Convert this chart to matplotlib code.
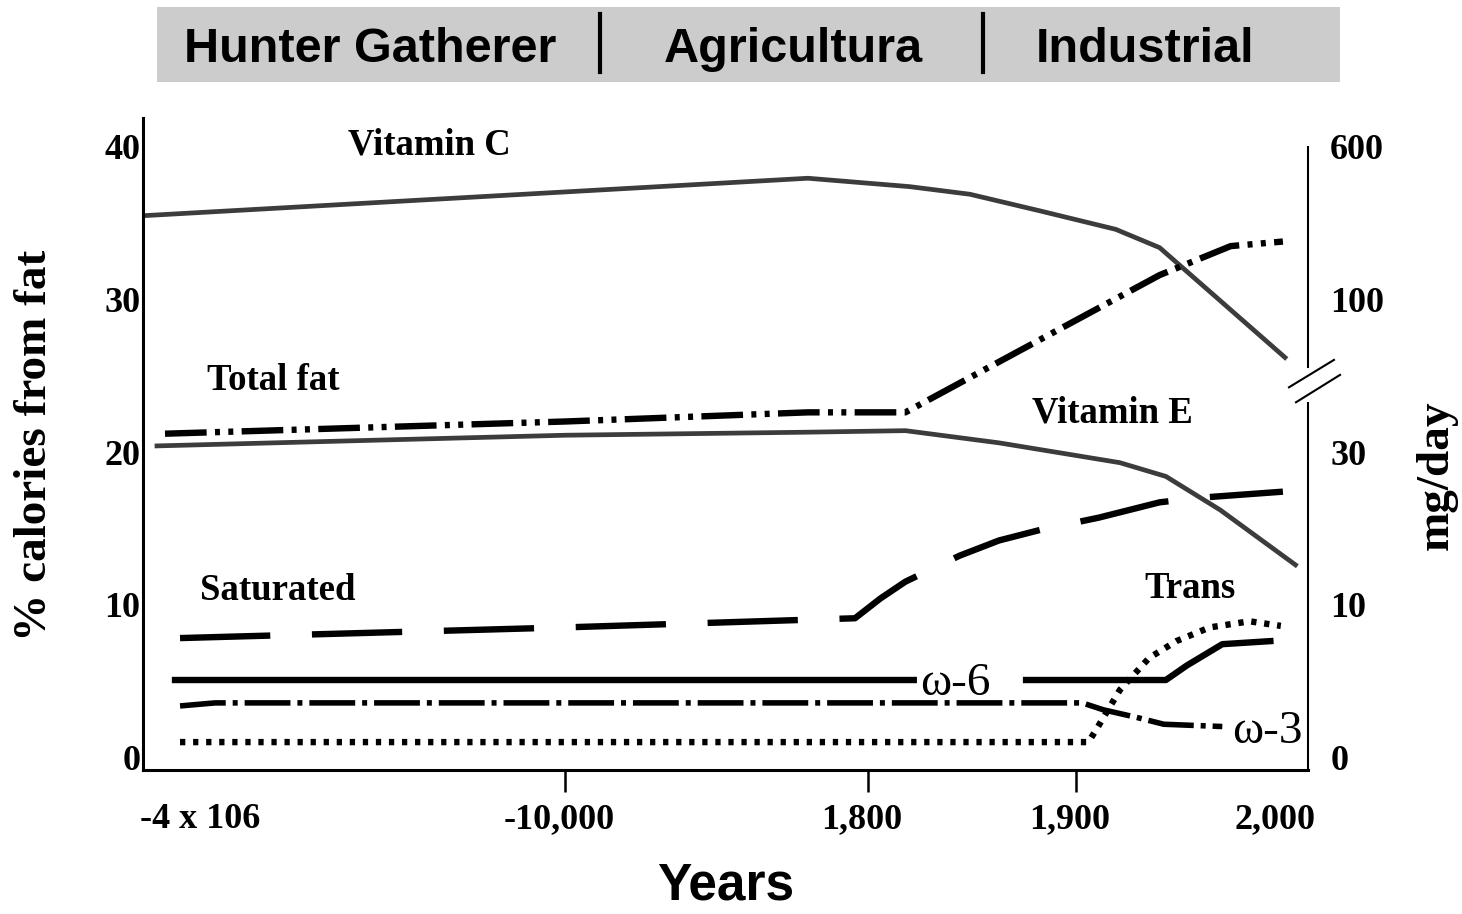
import numpy as np
import matplotlib
matplotlib.use("Agg")
import matplotlib.pyplot as plt
from matplotlib.lines import Line2D
from matplotlib.patches import Rectangle
import matplotlib.transforms as mtransforms

plt.rcParams['lines.scale_dashes'] = False

# ---------------- data ----------------
era_labels = ["Hunter Gatherer", "Agricultura", "Industrial"]
xtick_years = [-10000, 1800, 1900]
xtick_labels = ["-10,000", "1,800", "1,900"]
end_labels = ["-4 x 106", "2,000"]
left_ticks = [0, 10, 20, 30, 40]
right_tick_labels = ["0", "10", "30", "100", "600"]

vitc_x = [-4.2e6, -540, 1820, 1849, 1883, 1919, 1940, 2000]
vitc_y = [35.5, 37.95, 37.4, 36.9, 35.8, 34.6, 33.4, 26.2]

totfat_x = [-4.0e6, -10000, -540, 1818, 1940, 1974, 1999]
totfat_y = [21.2, 22.0, 22.6, 22.6, 31.6, 33.5, 33.8]

vite_x = [-4.08e6, -10000, -540, 1818, 1863, 1921, 1943, 1969, 2005]
vite_y = [20.4, 21.1, 21.3, 21.4, 20.6, 19.3, 18.4, 16.2, 12.6]

sat_x = [-3.85e6, -10000, 1294, 1806, 1818, 1844, 1863, 1883, 1911, 1940, 1959, 1999]
sat_y = [7.8, 8.5, 9.1, 10.4, 11.5, 13.2, 14.2, 14.9, 15.7, 16.7, 17.0, 17.4]

w6_x = [-3.9e6, 1822, np.nan, 1876, 1943, 1953, 1970, 1993]
w6_y = [5.05, 5.05, np.nan, 5.05, 5.05, 6.0, 7.4, 7.6]

w3_x = [-3.85e6, -3.5e6, 1903, 1913, 1929, 1942, 1970]
w3_y = [3.35, 3.55, 3.55, 3.1, 2.6, 2.15, 2.0]

trans_x = [-3.85e6, 1906, 1911, 1921, 1935, 1948, 1964, 1983, 1998]
trans_y = [0.98, 0.98, 2.1, 4.4, 6.5, 7.6, 8.5, 8.9, 8.6]

# ---------------- piecewise year scale ----------------
KY = np.array([-4.0e6, -10000.0, 1800.0, 1900.0, 2000.0])
KP = np.array([165.0, 565.0, 868.0, 1076.0, 1285.0])


def _pw(x, a, b):
    x = np.asarray(x, dtype=float)
    y = np.interp(x, a, b)
    lo = x < a[0]
    hi = x > a[-1]
    y = np.where(lo, b[0] + (x - a[0]) * (b[1] - b[0]) / (a[1] - a[0]), y)
    y = np.where(hi, b[-1] + (x - a[-1]) * (b[-1] - b[-2]) / (a[-1] - a[-2]), y)
    return y


def fwd(x):
    return _pw(x, KY, KP)


def inv(u):
    return _pw(u, KP, KY)


# ---------------- figure ----------------
fig = plt.figure(figsize=(14.62, 9.14), dpi=100)
ax = fig.add_axes([143 / 1462, 1 - 770 / 914, 1165 / 1462, 652 / 914])
ax.set_xscale('function', functions=(fwd, inv))
ax.set_xlim(float(inv(143)), float(inv(1308)))
ax.set_ylim(-0.85, 41.9)

gray = '#3c3c3c'
LW_B = 4.6
ax.plot(vitc_x, vitc_y, color=gray, lw=3.4, solid_joinstyle='round')
ax.plot(vite_x, vite_y, color=gray, lw=3.4, solid_joinstyle='round')
ax.plot(totfat_x, totfat_y, color='black', lw=LW_B,
        linestyle=(0, (30, 6, 3.6, 6, 3.6, 6)))
ax.plot(sat_x, sat_y, color='black', lw=LW_B, linestyle=(0, (65, 30)))
ax.plot(w6_x, w6_y, color='black', lw=LW_B)
ax.plot(w3_x, w3_y, color='black', lw=LW_B - 0.6,
        linestyle=(0, (33, 5, 3.6, 5)))
ax.plot(trans_x, trans_y, color='black', lw=LW_B,
        linestyle=(0, (3.8, 5.6)))

serif = 'Liberation Serif'
sans = 'Liberation Sans'

# annotations
ann = dict(fontfamily=serif, fontweight='bold', fontsize=26.5, transform=ax.transAxes,
           ha='center', va='center')
ax.text(0.246, 0.958, "Vitamin C", **ann)
ax.text(0.112, 0.598, "Total fat", **ann)
ax.text(0.832, 0.548, "Vitamin E", **ann)
ax.text(0.116, 0.276, "Saturated", **ann)
ax.text(0.899, 0.279, "Trans", **ann)
ax.text(0.697, 0.133, "ω-6", fontfamily=serif, fontsize=34, transform=ax.transAxes,
        ha='center', va='center')
ax.text(0.965, 0.058, "ω-3", fontfamily=serif, fontsize=34, transform=ax.transAxes,
        ha='center', va='center')

# spines
for s in ['top', 'right']:
    ax.spines[s].set_visible(False)
ax.spines['left'].set_linewidth(2.2)
ax.spines['bottom'].set_linewidth(2.2)

ax.set_yticks(left_ticks)
ax.set_yticklabels([str(v) for v in left_ticks])
ax.tick_params(axis='y', length=0, pad=2, labelsize=26)
for lab in ax.get_yticklabels():
    lab.set_fontfamily(serif)
    lab.set_fontweight('bold')

ax.xaxis.set_major_locator(matplotlib.ticker.FixedLocator(xtick_years))
ax.xaxis.set_minor_locator(matplotlib.ticker.NullLocator())
ax.set_xticklabels(xtick_labels)
ax.tick_params(axis='x', direction='out', length=16, width=1.8, pad=8, labelsize=26)
for lab in ax.get_xticklabels():
    lab.set_fontfamily(serif)
    lab.set_fontweight('bold')
    lab.set_transform(lab.get_transform() +
                      mtransforms.ScaledTranslation(-6 / 100, 0, fig.dpi_scale_trans))

bl = mtransforms.blended_transform_factory(ax.transData, ax.transAxes)
ax.annotate(end_labels[0], xy=(KY[0], 0), xycoords=bl, xytext=(25, -36),
            textcoords='offset points', ha='center', va='center',
            fontfamily=serif, fontweight='bold', fontsize=26, annotation_clip=False)
ax.annotate(end_labels[1], xy=(KY[-1], 0), xycoords=bl, xytext=(-7, -36),
            textcoords='offset points', ha='center', va='center',
            fontfamily=serif, fontweight='bold', fontsize=26, annotation_clip=False)

# right axis (labels only)
ax2 = ax.twinx()
ax2.set_ylim(ax.get_ylim())
ax2.set_yticks(left_ticks)
ax2.set_yticklabels(right_tick_labels)
ax2.tick_params(axis='y', length=0, pad=16, labelsize=26)
for lab in ax2.get_yticklabels():
    lab.set_fontfamily(serif)
    lab.set_fontweight('bold')
for s in ax2.spines.values():
    s.set_visible(False)

# custom right spine with break
rt = mtransforms.blended_transform_factory(ax.transAxes, ax.transData)
ax.plot([1, 1], [-0.85, 23.2], color='black', lw=1.5, transform=rt, clip_on=False)
ax.plot([1, 1], [25.6, 40.0], color='black', lw=1.5, transform=rt, clip_on=False)
ax.plot([0.9837, 1.0223], [0.587, 0.629], color='black', lw=1.5,
        transform=ax.transAxes, clip_on=False)
ax.plot([0.9897, 1.0275], [0.564, 0.606], color='black', lw=1.5,
        transform=ax.transAxes, clip_on=False)

# axis titles
fig.text(35 / 1462, 1 - 445 / 914, "% calories from fat", rotation=90, ha='center',
         va='center', fontfamily=serif, fontweight='bold', fontsize=34)
fig.text(1437 / 1462, 1 - 475 / 914, "mg/day", rotation=90, ha='center', va='center',
         fontfamily=serif, fontweight='bold', fontsize=34)
fig.text(726 / 1462, 1 - 886 / 914, "Years", ha='center', va='center',
         fontfamily=sans, fontweight='bold', fontsize=37)

# era banner
fig.patches.append(Rectangle((157 / 1462, 1 - 82 / 914), 1183 / 1462, 75 / 914,
                             transform=fig.transFigure, facecolor='#cccccc',
                             edgecolor='none', zorder=0))
era_x = [370, 793, 1145]
for xx, lab in zip(era_x, era_labels):
    fig.text(xx / 1462, 1 - 50 / 914, lab, ha='center', va='center',
             fontfamily=sans, fontweight='bold', fontsize=35)
for xx in [600, 983]:
    fig.add_artist(Line2D([xx / 1462, xx / 1462], [1 - 72 / 914, 1 - 14 / 914],
                          color='black', lw=3, transform=fig.transFigure))

fig.savefig("out.png", dpi=100)
